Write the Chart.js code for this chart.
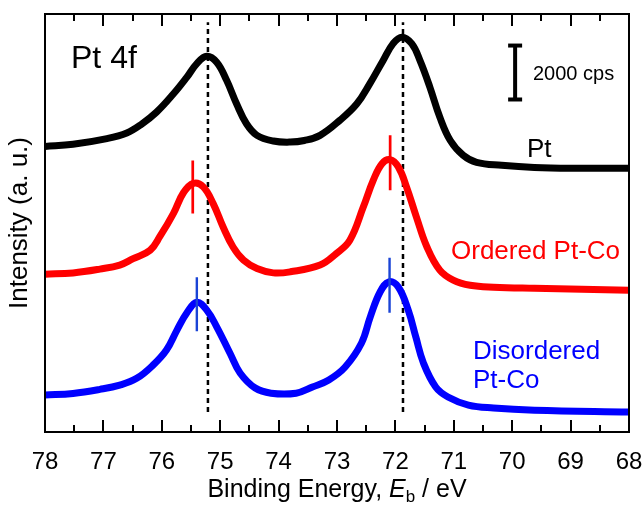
<!DOCTYPE html>
<html>
<head>
<meta charset="utf-8">
<script src="https://cdn.jsdelivr.net/npm/chart.js@4.4.0/dist/chart.umd.min.js"></script>
<style>
  html, body { margin: 0; padding: 0; background: #fff; }
</style>
</head>
<body>
<canvas id="chartXps" width="644" height="507"></canvas>
<script>
// Pt 4f XPS spectra (intensity in kcps, curves offset vertically)
const xTickLabels = [78, 77, 76, 75, 74, 73, 72, 71, 70, 69, 68];

const ptEnergy = [78.0, 77.52, 76.94, 76.60, 76.35, 76.09, 75.80, 75.57, 75.40, 75.23, 75.06, 74.89, 74.72, 74.55, 74.37, 74.09, 73.80, 73.56, 73.29, 72.95, 72.66, 72.44, 72.21, 72.04, 71.89, 71.72, 71.58, 71.41, 71.24, 71.06, 70.84, 70.61, 70.18, 69.62, 68.92, 68.0];
const ptIntensity = [10.59, 10.67, 10.88, 11.09, 11.41, 11.86, 12.54, 13.16, 13.66, 13.93, 13.71, 13.04, 12.17, 11.43, 11.00, 10.79, 10.75, 10.81, 11.00, 11.56, 12.17, 12.91, 13.78, 14.40, 14.64, 14.40, 13.78, 12.79, 11.68, 10.81, 10.26, 10.00, 9.89, 9.81, 9.78, 9.78];

const orderedEnergy = [78.0, 77.52, 77.06, 76.72, 76.49, 76.20, 76.03, 75.80, 75.63, 75.46, 75.29, 75.12, 74.95, 74.78, 74.60, 74.37, 74.09, 73.80, 73.29, 73.01, 72.78, 72.55, 72.38, 72.23, 72.09, 71.95, 71.81, 71.64, 71.46, 71.24, 71.01, 70.72, 70.32, 69.62, 68.0];
const orderedIntensity = [5.85, 5.90, 6.04, 6.19, 6.43, 6.74, 7.26, 8.11, 8.87, 9.22, 9.09, 8.47, 7.60, 6.86, 6.37, 6.06, 5.90, 5.94, 6.19, 6.62, 7.11, 8.34, 9.33, 9.95, 10.10, 9.83, 9.09, 7.97, 6.86, 6.00, 5.63, 5.44, 5.37, 5.33, 5.26];

const disorderedEnergy = [78.0, 77.52, 77.06, 76.72, 76.43, 76.15, 75.92, 75.74, 75.57, 75.40, 75.23, 75.06, 74.83, 74.66, 74.40, 74.13, 73.70, 73.42, 73.14, 72.86, 72.58, 72.43, 72.26, 72.11, 71.95, 71.78, 71.65, 71.52, 71.31, 71.10, 70.75, 70.32, 69.62, 68.0];
const disorderedIntensity = [1.37, 1.43, 1.58, 1.74, 1.99, 2.48, 3.04, 3.78, 4.42, 4.81, 4.52, 3.90, 2.91, 2.19, 1.63, 1.44, 1.44, 1.67, 1.93, 2.41, 3.30, 4.27, 5.20, 5.57, 5.38, 4.52, 3.52, 2.56, 1.67, 1.30, 1.00, 0.89, 0.81, 0.74];

// peak position markers
const orderedMarkEnergy = [75.47, 72.09];
const orderedMarkLow = [8.10, 8.96];
const orderedMarkHigh = [10.07, 11.00];
const disorderedMarkEnergy = [75.40, 72.10];
const disorderedMarkLow = [3.74, 4.42];
const disorderedMarkHigh = [5.74, 6.46];

// dashed reference lines at the Pt peaks
const refLineEnergy = [75.21, 71.87];
const refLineLow = 0.74;
const refLineHigh = 15.19;

// 2000 cps scale bar
const scaleBarEnergy = 69.95;
const scaleBarLow = 12.33;
const scaleBarHigh = 14.33;

const FONT = '"Liberation Sans", Arial, Helvetica, sans-serif';

function toPoints(xs, ys) {
    return xs.map((x, i) => ({ x: x, y: ys[i] }));
}

// vertical segments separated by gaps
function segments(xs, lows, highs) {
    const pts = [];
    xs.forEach((x, i) => {
        const lo = Array.isArray(lows) ? lows[i] : lows;
        const hi = Array.isArray(highs) ? highs[i] : highs;
        pts.push({ x: x, y: lo }, { x: x, y: hi }, { x: x, y: null });
    });
    return pts;
}

function spectrum(xs, ys, color) {
    return {
        data: toPoints(xs, ys),
        borderColor: color,
        borderWidth: 7,
        pointRadius: 0,
        showLine: true,
        tension: 0.4,
        borderCapStyle: 'butt',
        borderJoinStyle: 'round',
        order: 1
    };
}

function marks(xs, lows, highs, color, width, dash, order) {
    return {
        data: segments(xs, lows, highs),
        borderColor: color,
        borderWidth: width,
        borderDash: dash,
        pointRadius: 0,
        showLine: true,
        spanGaps: false,
        order: order
    };
}

// frame, inward ticks and text annotations
const decorations = {
    id: 'decorations',
    afterDraw(chart) {
        const ctx = chart.ctx;
        const area = chart.chartArea;
        const xs = chart.scales.x;
        ctx.save();
        ctx.strokeStyle = '#000';
        ctx.lineWidth = 2;
        ctx.strokeRect(area.left, area.top, area.right - area.left, area.bottom - area.top);

        ctx.beginPath();
        for (let v = 68; v <= 78.001; v += 0.5) {
            const px = Math.round(xs.getPixelForValue(v));
            const len = Number.isInteger(v) ? 12 : 7;
            ctx.moveTo(px, area.bottom);
            ctx.lineTo(px, area.bottom - len);
            ctx.moveTo(px, area.top);
            ctx.lineTo(px, area.top + len);
        }
        ctx.stroke();

        ctx.textBaseline = 'alphabetic';
        ctx.textAlign = 'left';
        ctx.fillStyle = '#000';
        ctx.font = '32px ' + FONT;
        ctx.fillText('Pt 4f', 71, 68);
        ctx.font = '20px ' + FONT;
        ctx.fillText('2000 cps', 533, 80);
        ctx.font = '26px ' + FONT;
        ctx.fillText('Pt', 527, 157);
        ctx.fillStyle = '#ff0000';
        ctx.fillText('Ordered Pt-Co', 451, 259);
        ctx.fillStyle = '#0000ff';
        ctx.fillText('Disordered', 473, 359);
        ctx.fillText('Pt-Co', 473, 388);

        // x axis title with italic E and subscript b
        ctx.fillStyle = '#000';
        const parts = [
            { t: 'Binding Energy, ', f: '25px ' + FONT, dy: 0 },
            { t: 'E', f: 'italic 25px ' + FONT, dy: 0 },
            { t: 'b', f: '17px ' + FONT, dy: 5 },
            { t: ' / eV', f: '25px ' + FONT, dy: 0 }
        ];
        let total = 0;
        parts.forEach(p => { ctx.font = p.f; p.w = ctx.measureText(p.t).width; total += p.w; });
        let x = (area.left + area.right) / 2 - total / 2;
        parts.forEach(p => {
            ctx.font = p.f;
            ctx.fillText(p.t, x, 497 + p.dy);
            x += p.w;
        });
        ctx.restore();
    }
};

const ctxXps = document.getElementById('chartXps').getContext('2d');
new Chart(ctxXps, {
    type: 'scatter',
    data: {
        datasets: [
            marks(orderedMarkEnergy, orderedMarkLow, orderedMarkHigh, '#ff0000', 2.7, [], 0),
            marks(disorderedMarkEnergy, disorderedMarkLow, disorderedMarkHigh, '#1a44d6', 2.4, [], 0),
            {
                data: [{ x: scaleBarEnergy, y: scaleBarLow }, { x: scaleBarEnergy, y: scaleBarHigh }],
                borderColor: '#000',
                borderWidth: 4,
                showLine: true,
                pointStyle: 'line',
                pointRadius: 7,
                pointBorderWidth: 4,
                pointBorderColor: '#000',
                order: 0
            },
            spectrum(ptEnergy, ptIntensity, '#000000'),
            spectrum(orderedEnergy, orderedIntensity, '#ff0000'),
            spectrum(disorderedEnergy, disorderedIntensity, '#0000ff'),
            marks(refLineEnergy, refLineLow, refLineHigh, '#000', 2.5, [5, 4], 2)
        ]
    },
    options: {
        responsive: false,
        animation: false,
        layout: { padding: { top: 14, right: 15, left: 0, bottom: 0 } },
        plugins: {
            legend: { display: false },
            tooltip: { enabled: false }
        },
        scales: {
            x: {
                type: 'linear',
                reverse: true,
                min: 68,
                max: 78,
                grid: { display: false },
                border: { display: false },
                afterBuildTicks: scale => { scale.ticks = xTickLabels.map(v => ({ value: v })); },
                ticks: {
                    color: '#000',
                    font: { family: FONT, size: 24 },
                    padding: 8,
                    maxRotation: 0,
                    autoSkip: false
                },
                afterFit: scale => {
                    scale.height = 75;
                    scale.paddingLeft = 0;
                    scale.paddingRight = 0;
                }
            },
            y: {
                min: 0,
                max: 15.5,
                grid: { display: false },
                border: { display: false },
                ticks: { display: false },
                title: {
                    display: true,
                    text: 'Intensity (a. u.)',
                    color: '#000',
                    font: { family: FONT, size: 26 },
                    padding: { top: 4, bottom: 0 }
                },
                afterFit: scale => { scale.width = 45; }
            }
        }
    },
    plugins: [decorations]
});
</script>
</body>
</html>
